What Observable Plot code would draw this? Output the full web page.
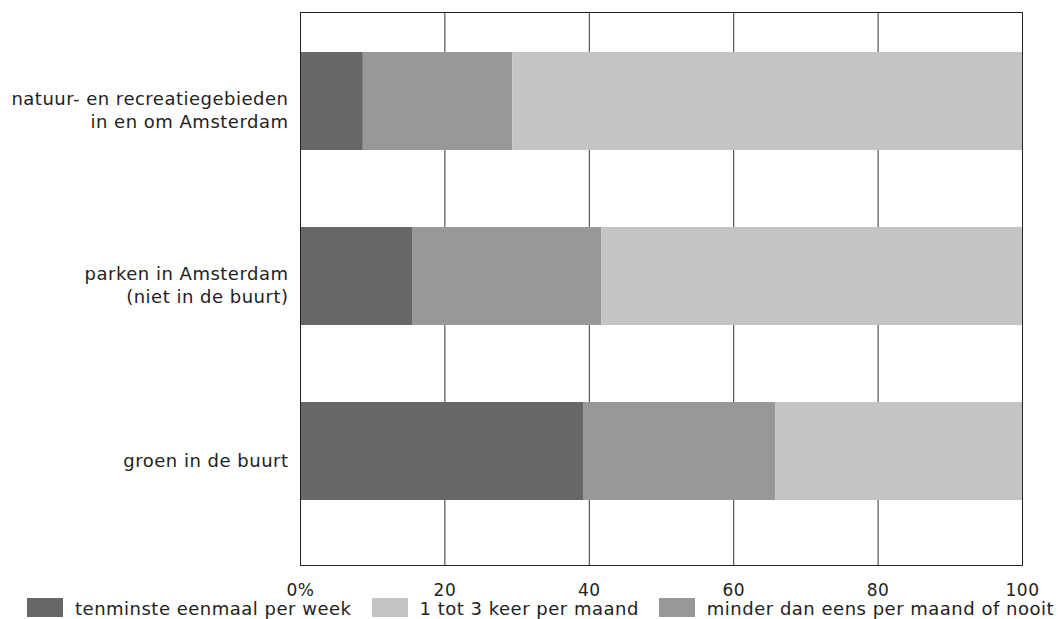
<!DOCTYPE html>
<html>
<head>
<meta charset="utf-8">
<script src="https://cdn.jsdelivr.net/npm/d3@7"></script>
<script src="https://cdn.jsdelivr.net/npm/@observablehq/plot@0.6"></script>
<style>
  body { margin: 0; background: #fff; font-family: "DejaVu Sans", sans-serif; }
  #wrap { position: relative; width: 1060px; height: 619px; overflow: hidden; }
  #legend { position: absolute; left: 27px; top: 598px; display: flex; align-items: center; font-size: 18px; letter-spacing: 0.5px; color: #222; white-space: nowrap; }
  .item { display: flex; align-items: center; margin-right: 20px; height: 19px; }
  .item span { line-height: 15px; display: block; padding-top: 1px; }
  .sw { width: 36px; height: 19px; margin-right: 12px; }
</style>
</head>
<body>
<div id="wrap"><div id="chart"></div><div id="legend"></div></div>
<script>
const categories = [
  "natuur- en recreatiegebieden\nin en om Amsterdam",
  "parken in Amsterdam\n(niet in de buurt)",
  "groen in de buurt"
];
// stack order, left to right
const series = ["tenminste eenmaal per week", "minder dan eens per maand of nooit", "1 tot 3 keer per maand"];
const weekly = [8.7, 15.6, 39.2];
const lessThanMonthly = [20.7, 26.1, 26.6];
const monthly = [70.6, 58.3, 34.2];
const legendOrder = ["tenminste eenmaal per week", "1 tot 3 keer per maand", "minder dan eens per maand of nooit"];
const colors = ["#676767", "#989898", "#c4c4c4"];
const xTicks = [0, 20, 40, 60, 80, 100];
const xTickLabels = ["0%", "20", "40", "60", "80", "100"];

const valuesBySeries = [weekly, lessThanMonthly, monthly];
const rows = [];
series.forEach((s, i) => categories.forEach((c, j) => rows.push({cat: c, series: s, value: valuesBySeries[i][j]})));

const chart = Plot.plot({
  width: 1060,
  height: 619,
  marginLeft: 300,
  marginRight: 38,
  marginTop: 12,
  marginBottom: 54,
  style: {fontFamily: "'DejaVu Sans', sans-serif", fontSize: "18px", letterSpacing: "0.5px", color: "#222", background: "#fff"},
  x: {domain: [0, 100], ticks: xTicks, label: null, tickFormat: d => xTickLabels[xTicks.indexOf(d)]},
  y: {domain: categories, range: [12, 541], paddingInner: 0.439, paddingOuter: 0.228, axis: null},
  color: {domain: series, range: colors},
  marks: [
    Plot.gridX(xTicks, {stroke: "#333", strokeOpacity: 1, strokeWidth: 1}),
    Plot.barX(rows, Plot.stackX({y: "cat", x: "value", fill: "series", order: null})),
    Plot.frame({stroke: "#222", strokeWidth: 1}),
    Plot.axisX({ticks: xTicks, tickSize: 0, tickPadding: 18, label: null, tickFormat: d => xTickLabels[xTicks.indexOf(d)], fontSize: 17, fill: "#222"}),
    Plot.text(categories, {y: d => d, text: d => d, frameAnchor: "left", dx: -12, dy: 8, textAnchor: "end", lineHeight: 1.25, fontSize: 18, fill: "#222"})
  ]
});
document.getElementById("chart").appendChild(chart);

const legend = document.getElementById("legend");
legendOrder.forEach(s => {
  const item = document.createElement("div");
  item.className = "item";
  const sw = document.createElement("div");
  sw.className = "sw";
  sw.style.background = colors[series.indexOf(s)];
  const t = document.createElement("span");
  t.textContent = s;
  item.appendChild(sw); item.appendChild(t);
  legend.appendChild(item);
});
</script>
</body>
</html>
